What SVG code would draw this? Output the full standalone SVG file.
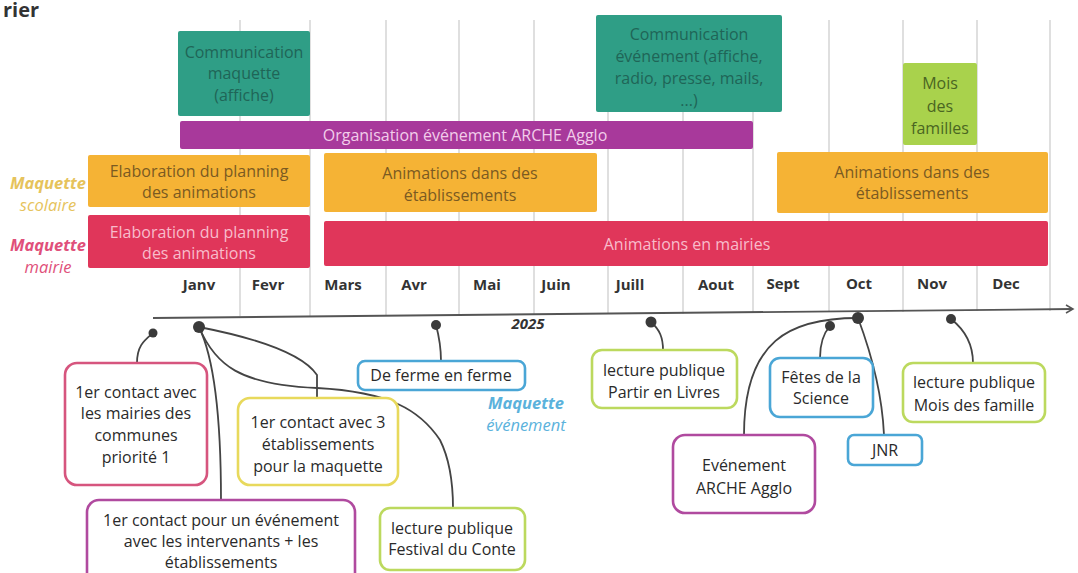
<svg xmlns="http://www.w3.org/2000/svg" width="1078" height="573" viewBox="0 0 1078 573">
<style>
text{font-family:"Open Sans","Liberation Sans",sans-serif;text-anchor:middle}
.grid{stroke:#d4d4d4;stroke-width:1.5}
.bar{font-size:16px}
.t-teal{fill:#1f6557}
.t-yel{fill:#7a5a22}
.t-red{fill:#f8bccb}
.t-pur{fill:#f2cdea}
.t-lime{fill:#4a6622}
.month{font-size:15px;font-weight:bold;fill:#333}
.box{fill:#fff;stroke-width:2.6}
.lbl{font-size:16px;fill:#2a2a2a}
.con{fill:none;stroke:#444;stroke-width:1.8}
.dot{fill:#3a3a3a}
.side{font-size:16.5px;font-style:italic;font-weight:bold}
.sub{font-weight:normal}
</style>
<rect width="1078" height="573" fill="#fff"/>
<text x="3" y="17" style="text-anchor:start;font-size:20px;font-weight:bold;fill:#333">rier</text>

<g id="grid">
<line class="grid" x1="240" y1="20" x2="240" y2="316"/>
<line class="grid" x1="310" y1="20" x2="310" y2="316"/>
<line class="grid" x1="386" y1="20" x2="386" y2="316"/>
<line class="grid" x1="459" y1="20" x2="459" y2="315"/>
<line class="grid" x1="534" y1="20" x2="534" y2="315"/>
<line class="grid" x1="608" y1="20" x2="608" y2="314"/>
<line class="grid" x1="683" y1="20" x2="683" y2="314"/>
<line class="grid" x1="753" y1="20" x2="753" y2="313"/>
<line class="grid" x1="829" y1="20" x2="829" y2="312"/>
<line class="grid" x1="903" y1="20" x2="903" y2="312"/>
<line class="grid" x1="977" y1="20" x2="977" y2="311"/>
<line class="grid" x1="1050" y1="20" x2="1050" y2="311"/>
</g>

<g id="comm-maquette">
<rect x="178" y="31" width="132" height="85" rx="2" fill="#2f9e86"/>
<text class="bar t-teal" x="244" y="58">Communication</text>
<text class="bar t-teal" x="244" y="79">maquette</text>
<text class="bar t-teal" x="244" y="101">(affiche)</text>
</g>
<g id="comm-evenement">
<rect x="596" y="15" width="186" height="97" rx="2" fill="#2f9e86"/>
<text class="bar t-teal" x="689" y="40">Communication</text>
<text class="bar t-teal" x="689" y="62">événement (affiche,</text>
<text class="bar t-teal" x="689" y="84">radio, presse, mails,</text>
<text class="bar t-teal" x="689" y="106">...)</text>
</g>
<g id="mois-familles">
<rect x="903" y="63" width="74" height="82" rx="2" fill="#a9d24c"/>
<text class="bar t-lime" x="940" y="89">Mois</text>
<text class="bar t-lime" x="940" y="112">des</text>
<text class="bar t-lime" x="940" y="134">familles</text>
</g>
<g id="organisation">
<rect x="180" y="121" width="573" height="28" rx="2" fill="#a8399b"/>
<text class="bar t-pur" x="465" y="141">Organisation événement ARCHE Agglo</text>
</g>
<g id="elab-scolaire">
<rect x="88" y="155" width="222" height="52" rx="2" fill="#f5b335"/>
<text class="bar t-yel" x="199" y="177">Elaboration du planning</text>
<text class="bar t-yel" x="199" y="198">des animations</text>
</g>
<g id="anim-etab-1">
<rect x="324" y="153" width="273" height="59" rx="2" fill="#f5b335"/>
<text class="bar t-yel" x="460" y="179">Animations dans des</text>
<text class="bar t-yel" x="460" y="201">établissements</text>
</g>
<g id="anim-etab-2">
<rect x="777" y="152" width="271" height="61" rx="2" fill="#f5b335"/>
<text class="bar t-yel" x="912" y="178">Animations dans des</text>
<text class="bar t-yel" x="912" y="199">établissements</text>
</g>
<g id="elab-mairie">
<rect x="88" y="215" width="222" height="53" rx="2" fill="#e0365a"/>
<text class="bar t-red" x="199" y="238">Elaboration du planning</text>
<text class="bar t-red" x="199" y="259">des animations</text>
</g>
<g id="anim-mairies">
<rect x="324" y="221" width="724" height="45" rx="2" fill="#e0365a"/>
<text class="bar t-red" x="687" y="250">Animations en mairies</text>
</g>

<g id="row-labels">
<text class="side" x="48" y="189" fill="#e6c35c">Maquette</text>
<text class="side sub" x="48" y="211" fill="#e6c35c">scolaire</text>
<text class="side" x="48" y="251" fill="#e0507a">Maquette</text>
<text class="side sub" x="48" y="273" fill="#e0507a">mairie</text>
<text class="side" x="526" y="409" fill="#5bb2dc">Maquette</text>
<text class="side sub" x="526" y="431" fill="#5bb2dc">événement</text>
</g>

<g id="months">
<text class="month" x="199" y="290">Janv</text>
<text class="month" x="268" y="290">Fevr</text>
<text class="month" x="343" y="290">Mars</text>
<text class="month" x="414" y="290">Avr</text>
<text class="month" x="487" y="290">Mai</text>
<text class="month" x="556" y="290">Juin</text>
<text class="month" x="630" y="290">Juill</text>
<text class="month" x="716" y="290">Aout</text>
<text class="month" x="783" y="289">Sept</text>
<text class="month" x="859" y="289">Oct</text>
<text class="month" x="932" y="289">Nov</text>
<text class="month" x="1006" y="289">Dec</text>
</g>

<g id="axis">
<line x1="153" y1="318" x2="1072" y2="309" stroke="#555" stroke-width="1.8"/>
<path d="M1066,305 L1073,309 L1066,313" fill="none" stroke="#555" stroke-width="1.5"/>
<text x="528" y="329" style="font-size:15px;font-style:italic;font-weight:bold;fill:#333">2025</text>
</g>

<g id="connectors">
<path class="con" d="M153,333 C145,340 137,345 137,363"/>
<path class="con" d="M199,327 C215,360 221,420 221,500"/>
<path class="con" d="M199,327 C240,335 300,350 317,375 L317,398"/>
<path class="con" d="M199,327 C215,365 240,385 317,388 C390,392 420,410 440,440 C450,460 453,485 453,508"/>
<path class="con" d="M436,325 C440,340 441,350 441,361"/>
<path class="con" d="M651,322 C660,330 663,338 663,350"/>
<path class="con" d="M830,326 C822,335 820,345 820,358"/>
<path class="con" d="M858,318 C790,318 744,340 744,435"/>
<path class="con" d="M858,318 C870,350 882,390 884,435"/>
<path class="con" d="M951,319 C965,330 973,345 973,363"/>
<circle class="dot" cx="153" cy="333" r="4.5"/>
<circle class="dot" cx="199" cy="327" r="6"/>
<circle class="dot" cx="436" cy="325" r="5"/>
<circle class="dot" cx="651" cy="322" r="5.5"/>
<circle class="dot" cx="830" cy="326" r="5"/>
<circle class="dot" cx="858" cy="318" r="6"/>
<circle class="dot" cx="951" cy="319" r="5"/>
</g>

<g id="n-mairies">
<rect class="box" x="65" y="363" width="142" height="122" rx="12" stroke="#d6557e"/>
<text class="lbl" x="136" y="398">1er contact avec</text>
<text class="lbl" x="136" y="419">les mairies des</text>
<text class="lbl" x="136" y="441">communes</text>
<text class="lbl" x="136" y="463">priorité 1</text>
</g>
<g id="n-etab">
<rect class="box" x="238" y="398" width="160" height="87" rx="12" stroke="#e8d95c"/>
<text class="lbl" x="318" y="428">1er contact avec 3</text>
<text class="lbl" x="318" y="450">établissements</text>
<text class="lbl" x="318" y="472">pour la maquette</text>
</g>
<g id="n-intervenants">
<rect class="box" x="87" y="500" width="268" height="85" rx="12" stroke="#b04a9f"/>
<text class="lbl" x="221" y="526">1er contact pour un événement</text>
<text class="lbl" x="221" y="547">avec les intervenants + les</text>
<text class="lbl" x="221" y="568">établissements</text>
</g>
<g id="n-festival">
<rect class="box" x="380" y="508" width="145" height="62" rx="10" stroke="#bcd95e"/>
<text class="lbl" x="452" y="534">lecture publique</text>
<text class="lbl" x="452" y="555">Festival du Conte</text>
</g>
<g id="n-ferme">
<rect class="box" x="358" y="361" width="167" height="29" rx="7" stroke="#4aa6d6"/>
<text class="lbl" x="441" y="381">De ferme en ferme</text>
</g>
<g id="n-partir">
<rect class="box" x="592" y="350" width="145" height="58" rx="10" stroke="#bcd95e"/>
<text class="lbl" x="664" y="376">lecture publique</text>
<text class="lbl" x="664" y="398">Partir en Livres</text>
</g>
<g id="n-fetes">
<rect class="box" x="770" y="358" width="103" height="59" rx="10" stroke="#4aa6d6"/>
<text class="lbl" x="821" y="383">Fêtes de la</text>
<text class="lbl" x="821" y="404">Science</text>
</g>
<g id="n-jnr">
<rect class="box" x="848" y="435" width="74" height="30" rx="6" stroke="#4aa6d6"/>
<text class="lbl" x="885" y="456">JNR</text>
</g>
<g id="n-arche">
<rect class="box" x="673" y="435" width="142" height="78" rx="12" stroke="#b04a9f"/>
<text class="lbl" x="744" y="471">Evénement</text>
<text class="lbl" x="744" y="494">ARCHE Agglo</text>
</g>
<g id="n-mois">
<rect class="box" x="903" y="363" width="142" height="59" rx="10" stroke="#bcd95e"/>
<text class="lbl" x="974" y="388">lecture publique</text>
<text class="lbl" x="974" y="411">Mois des famille</text>
</g>
</svg>
